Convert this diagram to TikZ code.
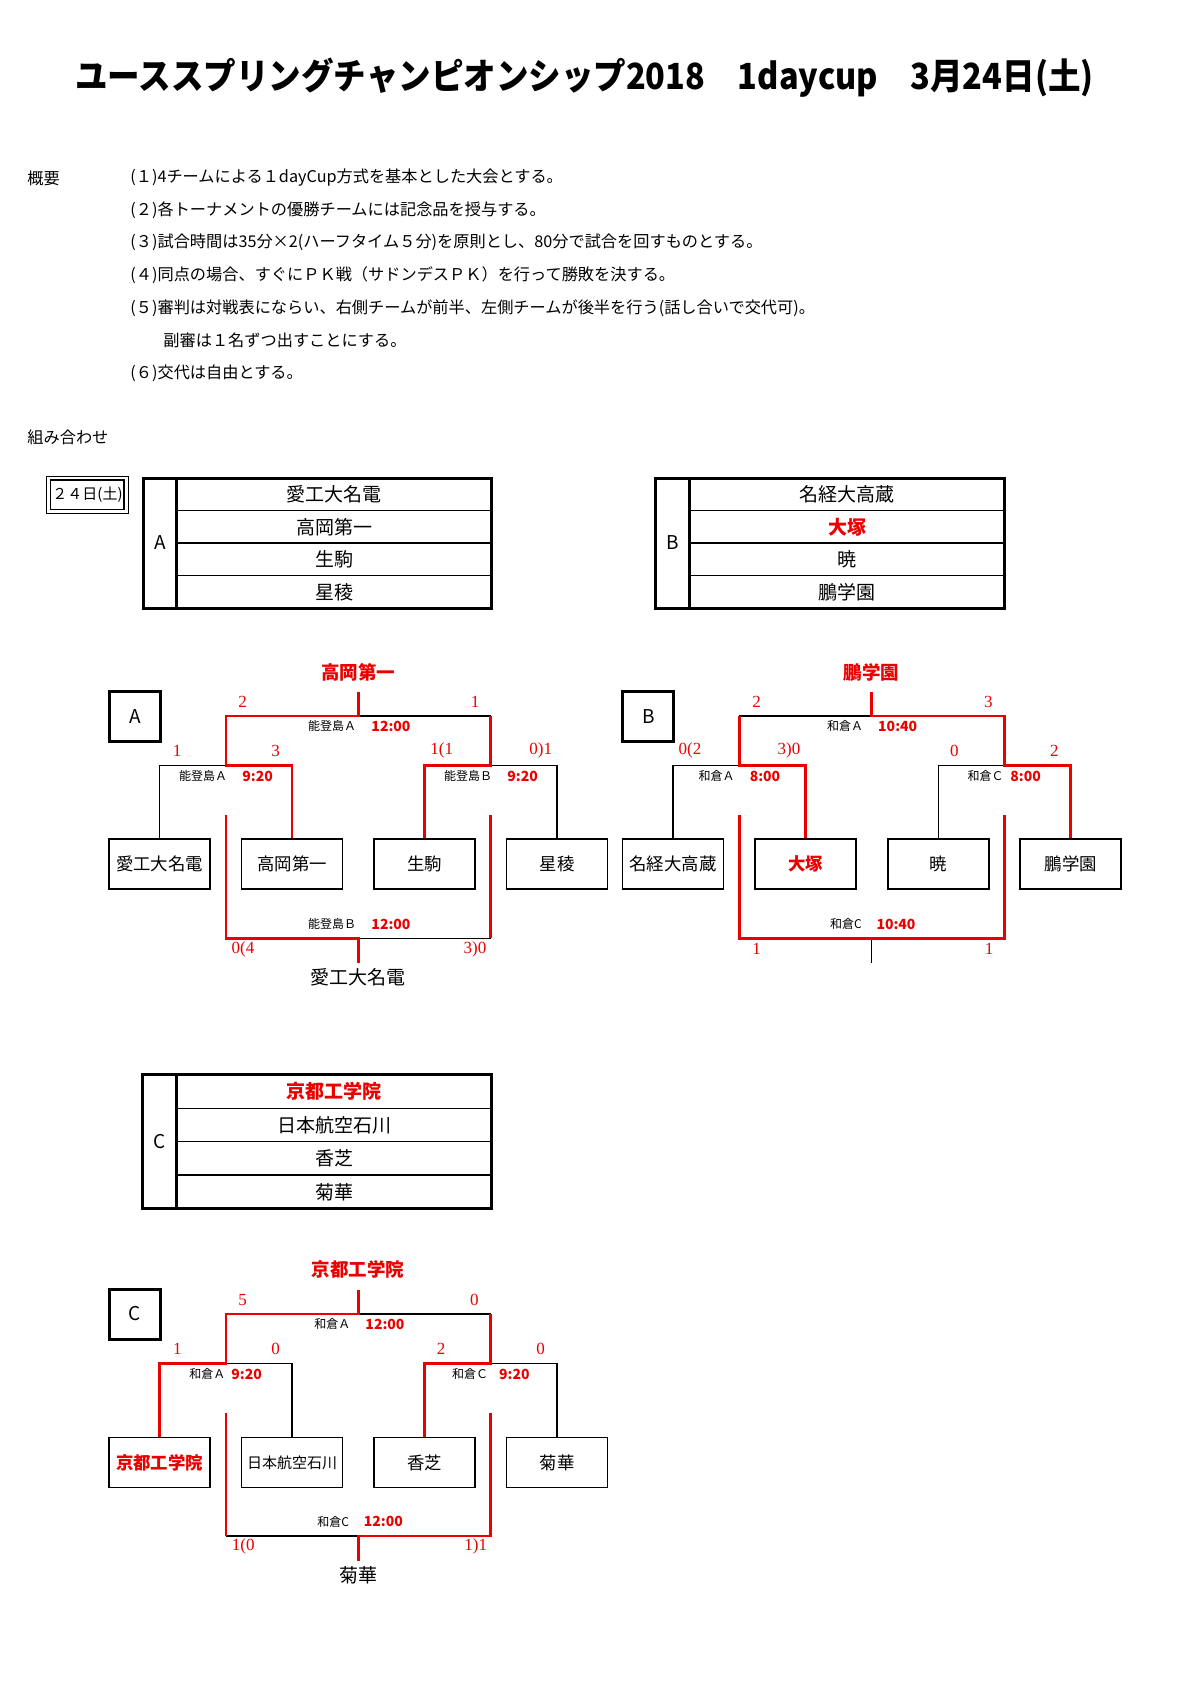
\documentclass[tikz,border=0pt]{standalone}
\usepackage{fontspec}
\setmainfont{Noto Sans CJK JP}
\newfontfamily\scorefont{Liberation Serif}
\definecolor{rd}{RGB}{235,0,0}
\tikzset{
 blk/.style={line width=0.7pt, draw=black},
 redl/.style={line width=1.4pt, draw=rd},
 teambox/.style={draw, line width=0.8pt, minimum width=50.5pt, minimum height=25pt, inner sep=0pt, font=\fontsize{8.7}{10}\selectfont},
 grpbox/.style={draw, line width=1.5pt, minimum width=25.5pt, minimum height=25pt, inner sep=0pt, font=\fontsize{9.5}{11}\selectfont},
 lblscore/.style={text=rd, font=\scorefont\fontsize{8.5}{10}\selectfont, inner sep=0pt},
 lblvenue/.style={font=\fontsize{6}{7}\selectfont, inner sep=0pt},
 lbltime/.style={text=rd, font=\bfseries\fontsize{7}{8}\selectfont, inner sep=0pt},
 lblwin/.style={text=rd, font=\bfseries\fontsize{9.25}{11}\selectfont, inner sep=0pt},
 lblthird/.style={font=\fontsize{9.5}{11}\selectfont, inner sep=0pt},
 bodytxt/.style={anchor=west, font=\fontsize{8.1}{10}\selectfont, inner sep=0pt},
 tname/.style={font=\fontsize{9.5}{11}\selectfont, inner sep=0pt},
 tnamered/.style={text=rd, font=\bfseries\fontsize{9.5}{11}\selectfont, inner sep=0pt},
 touter/.style={line width=1.5pt},
 tinner/.style={line width=0.7pt},
}
\begin{document}
\begin{tikzpicture}[x=0.5pt,y=-0.5pt]
\useasboundingbox (0,0) rectangle (1190,1684);
\fill[white] (0,0) rectangle (1190,1684);

% title
\node[inner sep=0pt, font=\bfseries\fontsize{18}{20}\selectfont] (title) at (584.5,78)
 {\scalebox{0.903}[1]{ユーススプリングチャンピオンシップ2018　1daycup　3月24日(土)}};

% overview
\node[bodytxt] (gaiyo) at (27,178) {概要};
\node[bodytxt] (r1) at (130,178) {(１)4チームによる１dayCup方式を基本とした大会とする。};
\node[bodytxt] (r2) at (130,210.4) {(２)各トーナメントの優勝チームには記念品を授与する。};
\node[bodytxt] (r3) at (130,242.6) {(３)試合時間は35分×2(ハーフタイム５分)を原則とし、80分で試合を回すものとする。};
\node[bodytxt] (r4) at (130,274.8) {(４)同点の場合、すぐにＰＫ戦（サドンデスＰＫ）を行って勝敗を決する。};
\node[bodytxt] (r5) at (130,308) {(５)審判は対戦表にならい、右側チームが前半、左側チームが後半を行う(話し合いで交代可)。};
\node[bodytxt] (r5b) at (163,340.3) {副審は１名ずつ出すことにする。};
\node[bodytxt] (r6) at (130,373.6) {(６)交代は自由とする。};
\node[bodytxt] (kumi) at (27,437.5) {組み合わせ};

% date box
\draw[line width=0.7pt] (46.7,476.7) rectangle (128.3,513.3);
\draw[line width=0.7pt] (50.7,480) rectangle (124,509.3);
\node[inner sep=0pt, font=\fontsize{7.5}{9}\selectfont] (date) at (87.5,494.7) {２４日(土)};

% table A
\draw[touter] (143.3,478) rectangle (491.7,608);
\draw[touter] (176,478) -- (176,608);
\draw[tinner] (176,510.5) -- (491.7,510.5) (176,543) -- (491.7,543) (176,575.5) -- (491.7,575.5);
\node[tname] (tabA) at (160,543) {A};
\node[tname] (tA1n) at (334,494.2) {愛工大名電};
\node[tname] (tA2n) at (334,526.8) {高岡第一};
\node[tname] (tA3n) at (334,559.3) {生駒};
\node[tname] (tA4n) at (334,591.8) {星稜};

% table B
\draw[touter] (655,478) rectangle (1004.3,608);
\draw[touter] (689.3,478) -- (689.3,608);
\draw[tinner] (689.3,510.5) -- (1004.3,510.5) (689.3,543) -- (1004.3,543) (689.3,575.5) -- (1004.3,575.5);
\node[tname] (tabB) at (672.5,543) {B};
\node[tname] (tB1n) at (847,494.2) {名経大高蔵};
\node[tnamered] (tB2n) at (847,526.8) {大塚};
\node[tname] (tB3n) at (847,559.3) {暁};
\node[tname] (tB4n) at (847,591.8) {鵬学園};

% table C
\draw[touter] (142.7,1074.3) rectangle (491,1208.7);
\draw[touter] (176.7,1074.3) -- (176.7,1208.7);
\draw[tinner] (176.7,1108.3) -- (491,1108.3) (176.7,1141.7) -- (491,1141.7) (176.7,1175) -- (491,1175);
\node[tname] (tabC) at (159.7,1141.5) {C};
\node[tnamered] (tC1n) at (334,1091.3) {京都工学院};
\node[tname] (tC2n) at (334,1125) {日本航空石川};
\node[tname] (tC3n) at (334,1158.3) {香芝};
\node[tname] (tC4n) at (334,1191.8) {菊華};

%%%%%%%% Bracket A
\node[grpbox] (gA) at (135,716.5) {A};
\node[teambox] (tA1) at (159.5,864) {愛工大名電};
\node[teambox] (tA2) at (292,864) {高岡第一};
\node[teambox] (tA3) at (424.5,864) {生駒};
\node[teambox] (tA4) at (557,864) {星稜};
\coordinate (A1) at (226,765.7);
\coordinate (A2) at (490.7,765.7);
\coordinate (AF) at (358.3,716);
\coordinate (AFt) at (358.3,691.7);
\coordinate (AT) at (358.3,938.3);
\coordinate (ATb) at (358.3,963);
\coordinate (A1t) at (226,815);
\coordinate (A2t) at (490.7,815);
\draw[blk] (tA1.north) |- (A1);
\draw[blk] (tA4.north) |- (A2);
\draw[blk] (A2 |- AF) -- (AF);
\draw[blk] (AT) -- (A2t |- AT);
\draw[redl] (tA2.north) |- (A1) |- (AF) -- (AFt);
\draw[redl] (tA3.north) |- (A2) -- (A2 |- AF);
\draw[redl] (A1t) |- (AT) -- (ATb);
\draw[redl] (A2t) -- (A2t |- AT);
\node[lblwin] (wA) at (358,672) {高岡第一};
\node[lblthird] (thA) at (358,977) {愛工大名電};
\node[lblscore] at (242.7,702) {2};
\node[lblscore] at (475,702) {1};
\node[lblscore] at (177,750.7) {1};
\node[lblscore] at (275.7,750.7) {3};
\node[lblscore] at (441.7,750.7) {1(1};
\node[lblscore] at (540.7,750.7) {0)1};
\node[lblscore] at (243,949) {0(4};
\node[lblscore] at (475,949) {3)0};
\node[lblvenue] at (332,726) {能登島Ａ};
\node[lbltime] at (391,726) {12:00};
\node[lblvenue] at (203,776) {能登島Ａ};
\node[lbltime] at (257.7,776) {9:20};
\node[lblvenue] at (468,776) {能登島Ｂ};
\node[lbltime] at (522.7,776) {9:20};
\node[lblvenue] at (332,924) {能登島Ｂ};
\node[lbltime] at (391,924) {12:00};

%%%%%%%% Bracket B
\node[grpbox] (gB) at (648.3,716.2) {B};
\node[teambox] (tB1) at (673,864) {名経大高蔵};
\node[teambox, text=rd, font=\bfseries\fontsize{8.7}{10}\selectfont] (tB2) at (805.7,864) {大塚};
\node[teambox] (tB3) at (938.3,864) {暁};
\node[teambox] (tB4) at (1070.7,864) {鵬学園};
\coordinate (B1) at (739.3,765.7);
\coordinate (B2) at (1004.3,765.7);
\coordinate (BF) at (871.7,716);
\coordinate (BFt) at (871.7,691.7);
\coordinate (BT) at (871.7,938.3);
\coordinate (BTb) at (871.7,963);
\coordinate (B1t) at (739.3,815);
\coordinate (B2t) at (1004.3,815);
\draw[blk] (tB1.north) |- (B1);
\draw[blk] (tB3.north) |- (B2);
\draw[blk] (B1 |- BF) -- (BF);
\draw[blk] (BT) -- (BTb);
\draw[redl] (tB2.north) |- (B1) -- (B1 |- BF);
\draw[redl] (tB4.north) |- (B2) |- (BF) -- (BFt);
\draw[redl] (B1t) |- (BT) -| (B2t);
\node[lblwin] (wB) at (871.7,672) {鵬学園};
\node[lblscore] at (756.7,702) {2};
\node[lblscore] at (988.3,702) {3};
\node[lblscore] at (690,750.7) {0(2};
\node[lblscore] at (789,750.7) {3)0};
\node[lblscore] at (954.3,750.7) {0};
\node[lblscore] at (1054.3,750.7) {2};
\node[lblscore] at (756.7,949) {1};
\node[lblscore] at (989,949) {1};
\node[lblvenue] at (845,726) {和倉Ａ};
\node[lbltime] at (897.7,726) {10:40};
\node[lblvenue] at (716.7,776) {和倉Ａ};
\node[lbltime] at (765,776) {8:00};
\node[lblvenue] at (985.7,776) {和倉Ｃ};
\node[lbltime] at (1025.7,776) {8:00};
\node[lblvenue] at (846,924) {和倉C};
\node[lbltime] at (896,924) {10:40};

%%%%%%%% Bracket C
\node[grpbox] (gC) at (135,1314) {C};
\node[teambox, text=rd, font=\bfseries\fontsize{8.7}{10}\selectfont] (tC1) at (159.5,1462.5) {京都工学院};
\node[teambox, font=\fontsize{7.5}{9}\selectfont] (tC2) at (292,1462.5) {日本航空石川};
\node[teambox] (tC3) at (424.5,1462.5) {香芝};
\node[teambox] (tC4) at (557,1462.5) {菊華};
\coordinate (C1) at (226,1363.7);
\coordinate (C2) at (490.7,1363.7);
\coordinate (CF) at (358.3,1314);
\coordinate (CFt) at (358.3,1290);
\coordinate (CT) at (358.3,1536);
\coordinate (CTb) at (358.3,1561);
\coordinate (C1t) at (226,1413.3);
\coordinate (C2t) at (490.7,1413.3);
\draw[blk] (tC2.north) |- (C1);
\draw[blk] (tC4.north) |- (C2);
\draw[blk] (C2 |- CF) -- (CF);
\draw[blk] (C1t |- CT) -- (CT);
\draw[redl] (tC1.north) |- (C1) |- (CF) -- (CFt);
\draw[redl] (tC3.north) |- (C2) -- (C2 |- CF);
\draw[redl] (C1t) -- (C1t |- CT);
\draw[redl] (C2t) |- (CT) -- (CTb);
\node[lblwin] (wC) at (358,1269.3) {京都工学院};
\node[lblthird] (thC) at (358,1575) {菊華};
\node[lblscore] at (242.7,1300) {5};
\node[lblscore] at (474.3,1300) {0};
\node[lblscore] at (177.3,1349) {1};
\node[lblscore] at (275.7,1349) {0};
\node[lblscore] at (441,1349) {2};
\node[lblscore] at (540.7,1349) {0};
\node[lblscore] at (243.3,1546.7) {1(0};
\node[lblscore] at (475.7,1546.7) {1)1};
\node[lblvenue] at (332.3,1324) {和倉Ａ};
\node[lbltime] at (385,1324) {12:00};
\node[lblvenue] at (207.3,1374.3) {和倉Ａ};
\node[lbltime] at (246.7,1374.3) {9:20};
\node[lblvenue] at (470,1374.3) {和倉Ｃ};
\node[lbltime] at (514.3,1374.3) {9:20};
\node[lblvenue] at (333.3,1521.7) {和倉C};
\node[lbltime] at (383.3,1521.7) {12:00};
\end{tikzpicture}
\end{document}
